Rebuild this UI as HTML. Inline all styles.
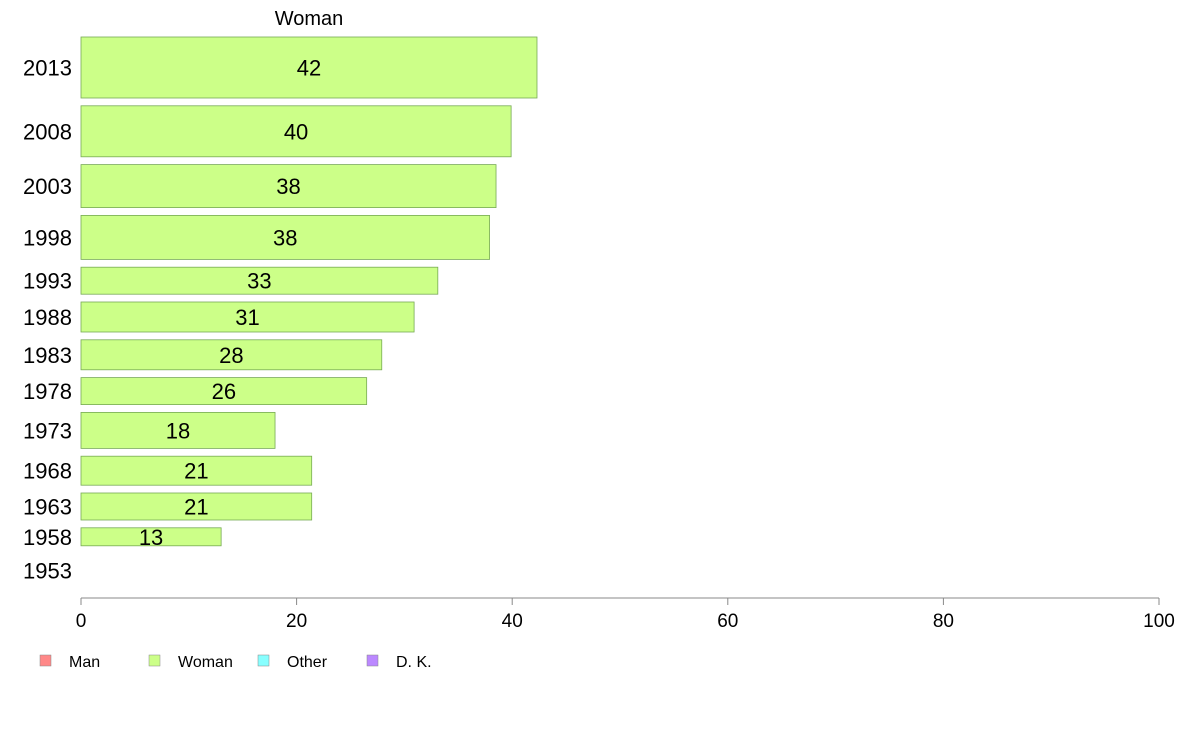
<!DOCTYPE html>
<html><head><meta charset="utf-8"><style>
body{margin:0;background:#fff;}
svg{display:block;font-family:"Liberation Sans",Arial,sans-serif;}
</style></head><body>
<svg id="chart" width="1188" height="736">
<text x="309" y="25" font-size="20" text-anchor="middle">Woman</text>
<g id="bars"></g>
<g id="axis"></g>
<g font-size="16">
<rect x="40" y="655" width="11" height="11" fill="#ff8888" stroke="#888" stroke-width="0.5"/>
<text x="69" y="667">Man</text>
<rect x="149" y="655" width="11" height="11" fill="#ccff88" stroke="#888" stroke-width="0.5"/>
<text x="178" y="667">Woman</text>
<rect x="258" y="655" width="11" height="11" fill="#88ffff" stroke="#888" stroke-width="0.5"/>
<text x="287" y="667">Other</text>
<rect x="367" y="655" width="11" height="11" fill="#bb88ff" stroke="#888" stroke-width="0.5"/>
<text x="396" y="667">D. K.</text>
</g>
</svg>
<script>
const years = ["2013","2008","2003","1998","1993","1988","1983","1978","1973","1968","1963","1958","1953"];
const values = [42.3,39.9,38.5,37.9,33.1,30.9,27.9,26.5,18.0,21.4,21.4,13.0,0];
const labels = ["42","40","38","38","33","31","28","26","18","21","21","13",""];
const weights = [61,51,43,44,27,30,30,27,36,29,27,18,34];
const ticks = [0,20,40,60,80,100];

const ns="http://www.w3.org/2000/svg";
const x0=81,x1=1159,yTop=37,gap=7.8;
const xs=v=>x0+(v/100)*(x1-x0);
const bars=document.getElementById('bars');
let y=yTop;
years.forEach((yr,i)=>{
  const h=weights[i];
  if(values[i]>0){
    const r=document.createElementNS(ns,'rect');
    
    
    r.setAttribute('x',x0);r.setAttribute('y',y);
    r.setAttribute('width',xs(values[i])-x0);r.setAttribute('height',h);
    r.setAttribute('fill','#ccff88');r.setAttribute('stroke','#77aa55');r.setAttribute('stroke-width','0.8');
    bars.appendChild(r);
    const t=document.createElementNS(ns,'text');
    
    
    t.setAttribute('x',(x0+xs(values[i]))/2);t.setAttribute('y',y+h/2+8);
    t.setAttribute('text-anchor','middle');t.setAttribute('font-size','22');
    t.textContent=labels[i];bars.appendChild(t);
  }
  const l=document.createElementNS(ns,'text');
  
  
  l.setAttribute('x',72);l.setAttribute('y',y+h/2+8);
  l.setAttribute('text-anchor','end');l.setAttribute('font-size','22');
  l.textContent=yr;bars.appendChild(l);
  y+=h+gap;
});
const ax=document.getElementById('axis');
const line=document.createElementNS(ns,'line');


line.setAttribute('x1',x0);line.setAttribute('x2',x1);line.setAttribute('y1',598);line.setAttribute('y2',598);
line.setAttribute('stroke','#888');ax.appendChild(line);
ticks.forEach(v=>{
  const tk=document.createElementNS(ns,'line');
  
  
  tk.setAttribute('x1',xs(v));tk.setAttribute('x2',xs(v));tk.setAttribute('y1',598);tk.setAttribute('y2',605);
  tk.setAttribute('stroke','#888');ax.appendChild(tk);
  const t=document.createElementNS(ns,'text');
  
  
  t.setAttribute('x',xs(v));t.setAttribute('y',627);t.setAttribute('text-anchor','middle');t.setAttribute('font-size','19');
  t.textContent=v;ax.appendChild(t);
});
</script>
</body></html>
